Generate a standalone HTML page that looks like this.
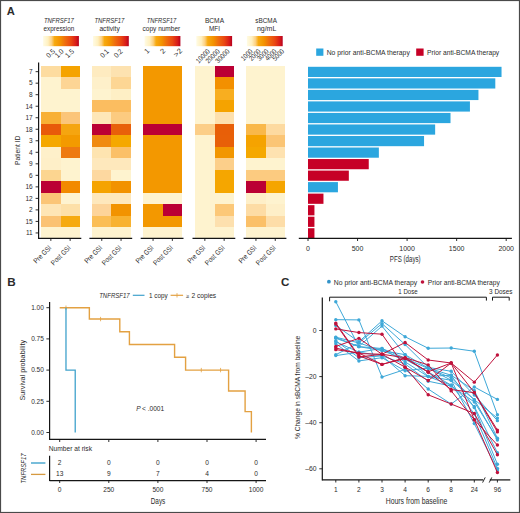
<!DOCTYPE html><html><head><meta charset="utf-8"><style>html,body{margin:0;padding:0;background:#fff;overflow:hidden}svg{display:block}text{font-family:"Liberation Sans",sans-serif;fill:#2b2b2b}</style></head><body>
<svg width="520" height="513" viewBox="0 0 520 513">
<defs><linearGradient id="cb" x1="0" x2="1" y1="0" y2="0"><stop offset="0" stop-color="#fffbe4"/><stop offset="0.14" stop-color="#fff0c0"/><stop offset="0.24" stop-color="#fcd082"/><stop offset="0.32" stop-color="#f7aa10"/><stop offset="0.48" stop-color="#f39200"/><stop offset="0.62" stop-color="#ef6c0e"/><stop offset="0.78" stop-color="#ea4812"/><stop offset="0.92" stop-color="#d81c1a"/><stop offset="1" stop-color="#b5001f"/></linearGradient></defs>
<rect x="0.00" y="0.00" width="520.00" height="513.00" fill="#fff"/>
<rect x="0.5" y="0.5" width="519" height="512" fill="none" stroke="#4a4a4a" stroke-width="1.2"/>
<text x="6.80" y="15.10" font-size="11.2" font-weight="bold" fill="#111">A</text>
<rect x="41.20" y="65.90" width="19.60" height="11.82" fill="#fddca0" shape-rendering="crispEdges"/>
<rect x="60.50" y="65.90" width="19.30" height="11.82" fill="#f5a300" shape-rendering="crispEdges"/>
<rect x="41.20" y="77.42" width="19.60" height="11.82" fill="#fef3cf" shape-rendering="crispEdges"/>
<rect x="60.50" y="77.42" width="19.30" height="11.82" fill="#fdd595" shape-rendering="crispEdges"/>
<rect x="41.20" y="88.94" width="19.60" height="11.82" fill="#fef3cf" shape-rendering="crispEdges"/>
<rect x="60.50" y="88.94" width="19.30" height="11.82" fill="#fef3cf" shape-rendering="crispEdges"/>
<rect x="41.20" y="100.46" width="19.60" height="11.82" fill="#fef3cf" shape-rendering="crispEdges"/>
<rect x="60.50" y="100.46" width="19.30" height="11.82" fill="#fef3cf" shape-rendering="crispEdges"/>
<rect x="41.20" y="111.98" width="19.60" height="11.82" fill="#f8b035" shape-rendering="crispEdges"/>
<rect x="60.50" y="111.98" width="19.30" height="11.82" fill="#fbc57a" shape-rendering="crispEdges"/>
<rect x="41.20" y="123.50" width="19.60" height="11.82" fill="#e85a0a" shape-rendering="crispEdges"/>
<rect x="60.50" y="123.50" width="19.30" height="11.82" fill="#f5a510" shape-rendering="crispEdges"/>
<rect x="41.20" y="135.02" width="19.60" height="11.82" fill="#f5a800" shape-rendering="crispEdges"/>
<rect x="60.50" y="135.02" width="19.30" height="11.82" fill="#f39a00" shape-rendering="crispEdges"/>
<rect x="41.20" y="146.54" width="19.60" height="11.82" fill="#fef0ca" shape-rendering="crispEdges"/>
<rect x="60.50" y="146.54" width="19.30" height="11.82" fill="#ee7a10" shape-rendering="crispEdges"/>
<rect x="41.20" y="158.06" width="19.60" height="11.82" fill="#feefc8" shape-rendering="crispEdges"/>
<rect x="60.50" y="158.06" width="19.30" height="11.82" fill="#fef3cf" shape-rendering="crispEdges"/>
<rect x="41.20" y="169.58" width="19.60" height="11.82" fill="#fcd590" shape-rendering="crispEdges"/>
<rect x="60.50" y="169.58" width="19.30" height="11.82" fill="#fef3cf" shape-rendering="crispEdges"/>
<rect x="41.20" y="181.10" width="19.60" height="11.82" fill="#bb0034" shape-rendering="crispEdges"/>
<rect x="60.50" y="181.10" width="19.30" height="11.82" fill="#f28a00" shape-rendering="crispEdges"/>
<rect x="41.20" y="192.62" width="19.60" height="11.82" fill="#fbc577" shape-rendering="crispEdges"/>
<rect x="60.50" y="192.62" width="19.30" height="11.82" fill="#fef3d0" shape-rendering="crispEdges"/>
<rect x="41.20" y="204.14" width="19.60" height="11.82" fill="#fee5b5" shape-rendering="crispEdges"/>
<rect x="60.50" y="204.14" width="19.30" height="11.82" fill="#fde0a8" shape-rendering="crispEdges"/>
<rect x="41.20" y="215.66" width="19.60" height="11.82" fill="#fbc273" shape-rendering="crispEdges"/>
<rect x="60.50" y="215.66" width="19.30" height="11.82" fill="#f6aa10" shape-rendering="crispEdges"/>
<rect x="41.20" y="227.18" width="19.60" height="11.82" fill="#fef3cf" shape-rendering="crispEdges"/>
<rect x="60.50" y="227.18" width="19.30" height="11.82" fill="#fef3cf" shape-rendering="crispEdges"/>
<line x1="38.50" y1="238.30" x2="81.30" y2="238.30" stroke="#151515" stroke-width="1.25"/>
<line x1="50.85" y1="238.30" x2="50.85" y2="240.90" stroke="#151515" stroke-width="0.9"/>
<text x="51.85" y="248.30" font-size="7.2" text-anchor="end" textLength="22.00" lengthAdjust="spacingAndGlyphs" transform="rotate(-45 51.85 248.30)">Pre GSI</text>
<line x1="70.15" y1="238.30" x2="70.15" y2="240.90" stroke="#151515" stroke-width="0.9"/>
<text x="71.15" y="248.30" font-size="7.2" text-anchor="end" textLength="24.60" lengthAdjust="spacingAndGlyphs" transform="rotate(-45 71.15 248.30)">Post GSI</text>
<rect x="43.10" y="36.00" width="35.80" height="10.20" fill="url(#cb)"/>
<rect x="92.10" y="65.90" width="19.60" height="11.82" fill="#feebc0" shape-rendering="crispEdges"/>
<rect x="111.40" y="65.90" width="19.30" height="11.82" fill="#fde2b0" shape-rendering="crispEdges"/>
<rect x="92.10" y="77.42" width="19.60" height="11.82" fill="#fef0ca" shape-rendering="crispEdges"/>
<rect x="111.40" y="77.42" width="19.30" height="11.82" fill="#fdd694" shape-rendering="crispEdges"/>
<rect x="92.10" y="88.94" width="19.60" height="11.82" fill="#fef3cf" shape-rendering="crispEdges"/>
<rect x="111.40" y="88.94" width="19.30" height="11.82" fill="#feefc5" shape-rendering="crispEdges"/>
<rect x="92.10" y="100.46" width="19.60" height="11.82" fill="#fbbd60" shape-rendering="crispEdges"/>
<rect x="111.40" y="100.46" width="19.30" height="11.82" fill="#fbbd60" shape-rendering="crispEdges"/>
<rect x="92.10" y="111.98" width="19.60" height="11.82" fill="#fee7b8" shape-rendering="crispEdges"/>
<rect x="111.40" y="111.98" width="19.30" height="11.82" fill="#fccb80" shape-rendering="crispEdges"/>
<rect x="92.10" y="123.50" width="19.60" height="11.82" fill="#bb0034" shape-rendering="crispEdges"/>
<rect x="111.40" y="123.50" width="19.30" height="11.82" fill="#e8600a" shape-rendering="crispEdges"/>
<rect x="92.10" y="135.02" width="19.60" height="11.82" fill="#f08a10" shape-rendering="crispEdges"/>
<rect x="111.40" y="135.02" width="19.30" height="11.82" fill="#f5a800" shape-rendering="crispEdges"/>
<rect x="92.10" y="146.54" width="19.60" height="11.82" fill="#fee4b0" shape-rendering="crispEdges"/>
<rect x="111.40" y="146.54" width="19.30" height="11.82" fill="#fbc068" shape-rendering="crispEdges"/>
<rect x="92.10" y="158.06" width="19.60" height="11.82" fill="#fee8bc" shape-rendering="crispEdges"/>
<rect x="111.40" y="158.06" width="19.30" height="11.82" fill="#fee8bc" shape-rendering="crispEdges"/>
<rect x="92.10" y="169.58" width="19.60" height="11.82" fill="#fdd8a0" shape-rendering="crispEdges"/>
<rect x="111.40" y="169.58" width="19.30" height="11.82" fill="#fef3cf" shape-rendering="crispEdges"/>
<rect x="92.10" y="181.10" width="19.60" height="11.82" fill="#f5a300" shape-rendering="crispEdges"/>
<rect x="111.40" y="181.10" width="19.30" height="11.82" fill="#f29200" shape-rendering="crispEdges"/>
<rect x="92.10" y="192.62" width="19.60" height="11.82" fill="#fee8bc" shape-rendering="crispEdges"/>
<rect x="111.40" y="192.62" width="19.30" height="11.82" fill="#fee8bc" shape-rendering="crispEdges"/>
<rect x="92.10" y="204.14" width="19.60" height="11.82" fill="#fdd49a" shape-rendering="crispEdges"/>
<rect x="111.40" y="204.14" width="19.30" height="11.82" fill="#f29300" shape-rendering="crispEdges"/>
<rect x="92.10" y="215.66" width="19.60" height="11.82" fill="#fbbe55" shape-rendering="crispEdges"/>
<rect x="111.40" y="215.66" width="19.30" height="11.82" fill="#f8b230" shape-rendering="crispEdges"/>
<rect x="92.10" y="227.18" width="19.60" height="11.82" fill="#fef3cf" shape-rendering="crispEdges"/>
<rect x="111.40" y="227.18" width="19.30" height="11.82" fill="#fef3cf" shape-rendering="crispEdges"/>
<line x1="89.40" y1="238.30" x2="132.20" y2="238.30" stroke="#151515" stroke-width="1.25"/>
<line x1="101.75" y1="238.30" x2="101.75" y2="240.90" stroke="#151515" stroke-width="0.9"/>
<text x="102.75" y="248.30" font-size="7.2" text-anchor="end" textLength="22.00" lengthAdjust="spacingAndGlyphs" transform="rotate(-45 102.75 248.30)">Pre GSI</text>
<line x1="121.05" y1="238.30" x2="121.05" y2="240.90" stroke="#151515" stroke-width="0.9"/>
<text x="122.05" y="248.30" font-size="7.2" text-anchor="end" textLength="24.60" lengthAdjust="spacingAndGlyphs" transform="rotate(-45 122.05 248.30)">Post GSI</text>
<rect x="93.00" y="36.00" width="35.80" height="10.20" fill="url(#cb)"/>
<rect x="143.40" y="65.90" width="19.60" height="11.82" fill="#f39800" shape-rendering="crispEdges"/>
<rect x="162.70" y="65.90" width="19.30" height="11.82" fill="#f39800" shape-rendering="crispEdges"/>
<rect x="143.40" y="77.42" width="19.60" height="11.82" fill="#f39800" shape-rendering="crispEdges"/>
<rect x="162.70" y="77.42" width="19.30" height="11.82" fill="#f39800" shape-rendering="crispEdges"/>
<rect x="143.40" y="88.94" width="19.60" height="11.82" fill="#f39800" shape-rendering="crispEdges"/>
<rect x="162.70" y="88.94" width="19.30" height="11.82" fill="#f39800" shape-rendering="crispEdges"/>
<rect x="143.40" y="100.46" width="19.60" height="11.82" fill="#f39800" shape-rendering="crispEdges"/>
<rect x="162.70" y="100.46" width="19.30" height="11.82" fill="#f39800" shape-rendering="crispEdges"/>
<rect x="143.40" y="111.98" width="19.60" height="11.82" fill="#f39800" shape-rendering="crispEdges"/>
<rect x="162.70" y="111.98" width="19.30" height="11.82" fill="#f39800" shape-rendering="crispEdges"/>
<rect x="143.40" y="123.50" width="19.60" height="11.82" fill="#bb0034" shape-rendering="crispEdges"/>
<rect x="162.70" y="123.50" width="19.30" height="11.82" fill="#bb0034" shape-rendering="crispEdges"/>
<rect x="143.40" y="135.02" width="19.60" height="11.82" fill="#f39800" shape-rendering="crispEdges"/>
<rect x="162.70" y="135.02" width="19.30" height="11.82" fill="#f39800" shape-rendering="crispEdges"/>
<rect x="143.40" y="146.54" width="19.60" height="11.82" fill="#f39800" shape-rendering="crispEdges"/>
<rect x="162.70" y="146.54" width="19.30" height="11.82" fill="#f39800" shape-rendering="crispEdges"/>
<rect x="143.40" y="158.06" width="19.60" height="11.82" fill="#f39800" shape-rendering="crispEdges"/>
<rect x="162.70" y="158.06" width="19.30" height="11.82" fill="#f39800" shape-rendering="crispEdges"/>
<rect x="143.40" y="169.58" width="19.60" height="11.82" fill="#f39800" shape-rendering="crispEdges"/>
<rect x="162.70" y="169.58" width="19.30" height="11.82" fill="#f39800" shape-rendering="crispEdges"/>
<rect x="143.40" y="181.10" width="19.60" height="11.82" fill="#f39800" shape-rendering="crispEdges"/>
<rect x="162.70" y="181.10" width="19.30" height="11.82" fill="#f39800" shape-rendering="crispEdges"/>
<rect x="143.40" y="192.62" width="19.60" height="11.82" fill="#fef3cf" shape-rendering="crispEdges"/>
<rect x="162.70" y="192.62" width="19.30" height="11.82" fill="#fef3cf" shape-rendering="crispEdges"/>
<rect x="143.40" y="204.14" width="19.60" height="11.82" fill="#f39800" shape-rendering="crispEdges"/>
<rect x="162.70" y="204.14" width="19.30" height="11.82" fill="#bb0034" shape-rendering="crispEdges"/>
<rect x="143.40" y="215.66" width="19.60" height="11.82" fill="#f39800" shape-rendering="crispEdges"/>
<rect x="162.70" y="215.66" width="19.30" height="11.82" fill="#f39800" shape-rendering="crispEdges"/>
<rect x="143.40" y="227.18" width="19.60" height="11.82" fill="#fef3cf" shape-rendering="crispEdges"/>
<rect x="162.70" y="227.18" width="19.30" height="11.82" fill="#fef3cf" shape-rendering="crispEdges"/>
<line x1="140.70" y1="238.30" x2="183.50" y2="238.30" stroke="#151515" stroke-width="1.25"/>
<line x1="153.05" y1="238.30" x2="153.05" y2="240.90" stroke="#151515" stroke-width="0.9"/>
<text x="154.05" y="248.30" font-size="7.2" text-anchor="end" textLength="22.00" lengthAdjust="spacingAndGlyphs" transform="rotate(-45 154.05 248.30)">Pre GSI</text>
<line x1="172.35" y1="238.30" x2="172.35" y2="240.90" stroke="#151515" stroke-width="0.9"/>
<text x="173.35" y="248.30" font-size="7.2" text-anchor="end" textLength="24.60" lengthAdjust="spacingAndGlyphs" transform="rotate(-45 173.35 248.30)">Post GSI</text>
<rect x="144.60" y="36.00" width="35.80" height="10.20" fill="url(#cb)"/>
<rect x="195.20" y="65.90" width="19.60" height="11.82" fill="#fef3cf" shape-rendering="crispEdges"/>
<rect x="214.50" y="65.90" width="19.30" height="11.82" fill="#bb0034" shape-rendering="crispEdges"/>
<rect x="195.20" y="77.42" width="19.60" height="11.82" fill="#fef3cf" shape-rendering="crispEdges"/>
<rect x="214.50" y="77.42" width="19.30" height="11.82" fill="#f39000" shape-rendering="crispEdges"/>
<rect x="195.20" y="88.94" width="19.60" height="11.82" fill="#fef3cf" shape-rendering="crispEdges"/>
<rect x="214.50" y="88.94" width="19.30" height="11.82" fill="#f8ae20" shape-rendering="crispEdges"/>
<rect x="195.20" y="100.46" width="19.60" height="11.82" fill="#fef3cf" shape-rendering="crispEdges"/>
<rect x="214.50" y="100.46" width="19.30" height="11.82" fill="#f5a300" shape-rendering="crispEdges"/>
<rect x="195.20" y="111.98" width="19.60" height="11.82" fill="#fef3cf" shape-rendering="crispEdges"/>
<rect x="214.50" y="111.98" width="19.30" height="11.82" fill="#fde0ae" shape-rendering="crispEdges"/>
<rect x="195.20" y="123.50" width="19.60" height="11.82" fill="#fcce88" shape-rendering="crispEdges"/>
<rect x="214.50" y="123.50" width="19.30" height="11.82" fill="#e85f08" shape-rendering="crispEdges"/>
<rect x="195.20" y="135.02" width="19.60" height="11.82" fill="#fef3cf" shape-rendering="crispEdges"/>
<rect x="214.50" y="135.02" width="19.30" height="11.82" fill="#e86008" shape-rendering="crispEdges"/>
<rect x="195.20" y="146.54" width="19.60" height="11.82" fill="#fef3cf" shape-rendering="crispEdges"/>
<rect x="214.50" y="146.54" width="19.30" height="11.82" fill="#f29600" shape-rendering="crispEdges"/>
<rect x="195.20" y="158.06" width="19.60" height="11.82" fill="#fef3cf" shape-rendering="crispEdges"/>
<rect x="214.50" y="158.06" width="19.30" height="11.82" fill="#fccf8a" shape-rendering="crispEdges"/>
<rect x="195.20" y="169.58" width="19.60" height="11.82" fill="#fef3cf" shape-rendering="crispEdges"/>
<rect x="214.50" y="169.58" width="19.30" height="11.82" fill="#f5a600" shape-rendering="crispEdges"/>
<rect x="195.20" y="181.10" width="19.60" height="11.82" fill="#fef3cf" shape-rendering="crispEdges"/>
<rect x="214.50" y="181.10" width="19.30" height="11.82" fill="#f5a600" shape-rendering="crispEdges"/>
<rect x="195.20" y="192.62" width="19.60" height="11.82" fill="#fef3cf" shape-rendering="crispEdges"/>
<rect x="214.50" y="192.62" width="19.30" height="11.82" fill="#fef3cf" shape-rendering="crispEdges"/>
<rect x="195.20" y="204.14" width="19.60" height="11.82" fill="#fef3cf" shape-rendering="crispEdges"/>
<rect x="214.50" y="204.14" width="19.30" height="11.82" fill="#fcc878" shape-rendering="crispEdges"/>
<rect x="195.20" y="215.66" width="19.60" height="11.82" fill="#fef3cf" shape-rendering="crispEdges"/>
<rect x="214.50" y="215.66" width="19.30" height="11.82" fill="#fde0ae" shape-rendering="crispEdges"/>
<rect x="195.20" y="227.18" width="19.60" height="11.82" fill="#fef3cf" shape-rendering="crispEdges"/>
<rect x="214.50" y="227.18" width="19.30" height="11.82" fill="#fef3cf" shape-rendering="crispEdges"/>
<line x1="192.50" y1="238.30" x2="235.30" y2="238.30" stroke="#151515" stroke-width="1.25"/>
<line x1="204.85" y1="238.30" x2="204.85" y2="240.90" stroke="#151515" stroke-width="0.9"/>
<text x="205.85" y="248.30" font-size="7.2" text-anchor="end" textLength="22.00" lengthAdjust="spacingAndGlyphs" transform="rotate(-45 205.85 248.30)">Pre GSI</text>
<line x1="224.15" y1="238.30" x2="224.15" y2="240.90" stroke="#151515" stroke-width="0.9"/>
<text x="225.15" y="248.30" font-size="7.2" text-anchor="end" textLength="24.60" lengthAdjust="spacingAndGlyphs" transform="rotate(-45 225.15 248.30)">Post GSI</text>
<rect x="196.30" y="36.00" width="35.80" height="10.20" fill="url(#cb)"/>
<rect x="246.30" y="65.90" width="19.60" height="11.82" fill="#fef3cf" shape-rendering="crispEdges"/>
<rect x="265.60" y="65.90" width="19.30" height="11.82" fill="#fef3cf" shape-rendering="crispEdges"/>
<rect x="246.30" y="77.42" width="19.60" height="11.82" fill="#fef3cf" shape-rendering="crispEdges"/>
<rect x="265.60" y="77.42" width="19.30" height="11.82" fill="#fef3cf" shape-rendering="crispEdges"/>
<rect x="246.30" y="88.94" width="19.60" height="11.82" fill="#fef3cf" shape-rendering="crispEdges"/>
<rect x="265.60" y="88.94" width="19.30" height="11.82" fill="#fef3cf" shape-rendering="crispEdges"/>
<rect x="246.30" y="100.46" width="19.60" height="11.82" fill="#fef3cf" shape-rendering="crispEdges"/>
<rect x="265.60" y="100.46" width="19.30" height="11.82" fill="#fef3cf" shape-rendering="crispEdges"/>
<rect x="246.30" y="111.98" width="19.60" height="11.82" fill="#fef3cf" shape-rendering="crispEdges"/>
<rect x="265.60" y="111.98" width="19.30" height="11.82" fill="#fef3cf" shape-rendering="crispEdges"/>
<rect x="246.30" y="123.50" width="19.60" height="11.82" fill="#f9b84a" shape-rendering="crispEdges"/>
<rect x="265.60" y="123.50" width="19.30" height="11.82" fill="#fddaa0" shape-rendering="crispEdges"/>
<rect x="246.30" y="135.02" width="19.60" height="11.82" fill="#f5a300" shape-rendering="crispEdges"/>
<rect x="265.60" y="135.02" width="19.30" height="11.82" fill="#fbc575" shape-rendering="crispEdges"/>
<rect x="246.30" y="146.54" width="19.60" height="11.82" fill="#f5a800" shape-rendering="crispEdges"/>
<rect x="265.60" y="146.54" width="19.30" height="11.82" fill="#fee2b0" shape-rendering="crispEdges"/>
<rect x="246.30" y="158.06" width="19.60" height="11.82" fill="#fef3cf" shape-rendering="crispEdges"/>
<rect x="265.60" y="158.06" width="19.30" height="11.82" fill="#fef3cf" shape-rendering="crispEdges"/>
<rect x="246.30" y="169.58" width="19.60" height="11.82" fill="#fccb80" shape-rendering="crispEdges"/>
<rect x="265.60" y="169.58" width="19.30" height="11.82" fill="#fccb80" shape-rendering="crispEdges"/>
<rect x="246.30" y="181.10" width="19.60" height="11.82" fill="#bb0034" shape-rendering="crispEdges"/>
<rect x="265.60" y="181.10" width="19.30" height="11.82" fill="#f5a500" shape-rendering="crispEdges"/>
<rect x="246.30" y="192.62" width="19.60" height="11.82" fill="#feefc8" shape-rendering="crispEdges"/>
<rect x="265.60" y="192.62" width="19.30" height="11.82" fill="#fef3cf" shape-rendering="crispEdges"/>
<rect x="246.30" y="204.14" width="19.60" height="11.82" fill="#fddca5" shape-rendering="crispEdges"/>
<rect x="265.60" y="204.14" width="19.30" height="11.82" fill="#feefc8" shape-rendering="crispEdges"/>
<rect x="246.30" y="215.66" width="19.60" height="11.82" fill="#fbc068" shape-rendering="crispEdges"/>
<rect x="265.60" y="215.66" width="19.30" height="11.82" fill="#fddda8" shape-rendering="crispEdges"/>
<rect x="246.30" y="227.18" width="19.60" height="11.82" fill="#fef3cf" shape-rendering="crispEdges"/>
<rect x="265.60" y="227.18" width="19.30" height="11.82" fill="#fef3cf" shape-rendering="crispEdges"/>
<line x1="243.60" y1="238.30" x2="286.40" y2="238.30" stroke="#151515" stroke-width="1.25"/>
<line x1="255.95" y1="238.30" x2="255.95" y2="240.90" stroke="#151515" stroke-width="0.9"/>
<text x="256.95" y="248.30" font-size="7.2" text-anchor="end" textLength="22.00" lengthAdjust="spacingAndGlyphs" transform="rotate(-45 256.95 248.30)">Pre GSI</text>
<line x1="275.25" y1="238.30" x2="275.25" y2="240.90" stroke="#151515" stroke-width="0.9"/>
<text x="276.25" y="248.30" font-size="7.2" text-anchor="end" textLength="24.60" lengthAdjust="spacingAndGlyphs" transform="rotate(-45 276.25 248.30)">Post GSI</text>
<rect x="246.90" y="36.00" width="35.80" height="10.20" fill="url(#cb)"/>
<line x1="38.60" y1="62.50" x2="38.60" y2="238.90" stroke="#151515" stroke-width="1.2"/>
<line x1="35.60" y1="71.66" x2="38.60" y2="71.66" stroke="#151515" stroke-width="0.9"/>
<text x="32.70" y="73.96" font-size="6.5" text-anchor="end">7</text>
<line x1="35.60" y1="83.18" x2="38.60" y2="83.18" stroke="#151515" stroke-width="0.9"/>
<text x="32.70" y="85.48" font-size="6.5" text-anchor="end">5</text>
<line x1="35.60" y1="94.70" x2="38.60" y2="94.70" stroke="#151515" stroke-width="0.9"/>
<text x="32.70" y="97.00" font-size="6.5" text-anchor="end">8</text>
<line x1="35.60" y1="106.22" x2="38.60" y2="106.22" stroke="#151515" stroke-width="0.9"/>
<text x="32.70" y="108.52" font-size="6.5" text-anchor="end">14</text>
<line x1="35.60" y1="117.74" x2="38.60" y2="117.74" stroke="#151515" stroke-width="0.9"/>
<text x="32.70" y="120.04" font-size="6.5" text-anchor="end">17</text>
<line x1="35.60" y1="129.26" x2="38.60" y2="129.26" stroke="#151515" stroke-width="0.9"/>
<text x="32.70" y="131.56" font-size="6.5" text-anchor="end">18</text>
<line x1="35.60" y1="140.78" x2="38.60" y2="140.78" stroke="#151515" stroke-width="0.9"/>
<text x="32.70" y="143.08" font-size="6.5" text-anchor="end">3</text>
<line x1="35.60" y1="152.30" x2="38.60" y2="152.30" stroke="#151515" stroke-width="0.9"/>
<text x="32.70" y="154.60" font-size="6.5" text-anchor="end">4</text>
<line x1="35.60" y1="163.82" x2="38.60" y2="163.82" stroke="#151515" stroke-width="0.9"/>
<text x="32.70" y="166.12" font-size="6.5" text-anchor="end">9</text>
<line x1="35.60" y1="175.34" x2="38.60" y2="175.34" stroke="#151515" stroke-width="0.9"/>
<text x="32.70" y="177.64" font-size="6.5" text-anchor="end">6</text>
<line x1="35.60" y1="186.86" x2="38.60" y2="186.86" stroke="#151515" stroke-width="0.9"/>
<text x="32.70" y="189.16" font-size="6.5" text-anchor="end">16</text>
<line x1="35.60" y1="198.38" x2="38.60" y2="198.38" stroke="#151515" stroke-width="0.9"/>
<text x="32.70" y="200.68" font-size="6.5" text-anchor="end">12</text>
<line x1="35.60" y1="209.90" x2="38.60" y2="209.90" stroke="#151515" stroke-width="0.9"/>
<text x="32.70" y="212.20" font-size="6.5" text-anchor="end">2</text>
<line x1="35.60" y1="221.42" x2="38.60" y2="221.42" stroke="#151515" stroke-width="0.9"/>
<text x="32.70" y="223.72" font-size="6.5" text-anchor="end">15</text>
<line x1="35.60" y1="232.94" x2="38.60" y2="232.94" stroke="#151515" stroke-width="0.9"/>
<text x="32.70" y="235.24" font-size="6.5" text-anchor="end">11</text>
<text x="19.80" y="150.30" font-size="7.9" text-anchor="middle" textLength="29.40" lengthAdjust="spacingAndGlyphs" transform="rotate(-90 19.80 150.30)">Patient ID</text>
<text x="58.90" y="22.90" font-size="6.8" text-anchor="middle" textLength="30.00" lengthAdjust="spacingAndGlyphs" font-style="italic">TNFRSF17</text>
<text x="58.90" y="30.90" font-size="6.8" text-anchor="middle" textLength="30.70" lengthAdjust="spacingAndGlyphs">expression</text>
<text x="109.40" y="22.90" font-size="6.8" text-anchor="middle" textLength="30.00" lengthAdjust="spacingAndGlyphs" font-style="italic">TNFRSF17</text>
<text x="109.60" y="30.90" font-size="6.8" text-anchor="middle" textLength="20.40" lengthAdjust="spacingAndGlyphs">activity</text>
<text x="161.50" y="22.90" font-size="6.8" text-anchor="middle" textLength="29.40" lengthAdjust="spacingAndGlyphs" font-style="italic">TNFRSF17</text>
<text x="161.40" y="30.90" font-size="6.8" text-anchor="middle" textLength="37.60" lengthAdjust="spacingAndGlyphs">copy number</text>
<text x="214.50" y="22.90" font-size="6.8" text-anchor="middle" textLength="19.10" lengthAdjust="spacingAndGlyphs">BCMA</text>
<text x="214.50" y="30.90" font-size="6.8" text-anchor="middle" textLength="10.90" lengthAdjust="spacingAndGlyphs">MFI</text>
<text x="266.10" y="22.90" font-size="6.8" text-anchor="middle" textLength="21.60" lengthAdjust="spacingAndGlyphs">sBCMA</text>
<text x="266.60" y="30.90" font-size="6.8" text-anchor="middle" textLength="19.40" lengthAdjust="spacingAndGlyphs">ng/mL</text>
<text x="55.50" y="51.80" font-size="7.2" text-anchor="end" textLength="9.18" lengthAdjust="spacingAndGlyphs" transform="rotate(-45 55.50 51.80)">0.5</text>
<text x="64.20" y="51.80" font-size="7.2" text-anchor="end" textLength="9.18" lengthAdjust="spacingAndGlyphs" transform="rotate(-45 64.20 51.80)">1.0</text>
<text x="74.50" y="51.80" font-size="7.2" text-anchor="end" textLength="9.18" lengthAdjust="spacingAndGlyphs" transform="rotate(-45 74.50 51.80)">1.5</text>
<text x="109.40" y="51.80" font-size="7.2" text-anchor="end" textLength="9.18" lengthAdjust="spacingAndGlyphs" transform="rotate(-45 109.40 51.80)">0.1</text>
<text x="123.20" y="51.80" font-size="7.2" text-anchor="end" textLength="9.18" lengthAdjust="spacingAndGlyphs" transform="rotate(-45 123.20 51.80)">0.2</text>
<text x="149.90" y="51.30" font-size="7.2" text-anchor="end" textLength="3.78" lengthAdjust="spacingAndGlyphs" transform="rotate(-45 149.90 51.30)">1</text>
<text x="165.90" y="51.30" font-size="7.2" text-anchor="end" textLength="4.10" lengthAdjust="spacingAndGlyphs" transform="rotate(-45 165.90 51.30)">2</text>
<text x="182.70" y="51.30" font-size="7.2" text-anchor="end" textLength="8.64" lengthAdjust="spacingAndGlyphs" transform="rotate(-45 182.70 51.30)">&gt;2</text>
<text x="210.50" y="51.80" font-size="7.2" text-anchor="end" textLength="16.74" lengthAdjust="spacingAndGlyphs" transform="rotate(-45 210.50 51.80)">10000</text>
<text x="220.30" y="51.80" font-size="7.2" text-anchor="end" textLength="16.74" lengthAdjust="spacingAndGlyphs" transform="rotate(-45 220.30 51.80)">20000</text>
<text x="230.10" y="51.80" font-size="7.2" text-anchor="end" textLength="16.74" lengthAdjust="spacingAndGlyphs" transform="rotate(-45 230.10 51.80)">30000</text>
<text x="253.20" y="51.80" font-size="7.2" text-anchor="end" textLength="13.39" lengthAdjust="spacingAndGlyphs" transform="rotate(-45 253.20 51.80)">1000</text>
<text x="261.20" y="51.80" font-size="7.2" text-anchor="end" textLength="13.39" lengthAdjust="spacingAndGlyphs" transform="rotate(-45 261.20 51.80)">2000</text>
<text x="269.20" y="51.80" font-size="7.2" text-anchor="end" textLength="13.39" lengthAdjust="spacingAndGlyphs" transform="rotate(-45 269.20 51.80)">3000</text>
<text x="277.20" y="51.80" font-size="7.2" text-anchor="end" textLength="13.39" lengthAdjust="spacingAndGlyphs" transform="rotate(-45 277.20 51.80)">4000</text>
<text x="284.70" y="51.80" font-size="7.2" text-anchor="end" textLength="13.39" lengthAdjust="spacingAndGlyphs" transform="rotate(-45 284.70 51.80)">5000</text>
<rect x="316.20" y="48.50" width="7.20" height="7.30" fill="#2ba6df"/>
<text x="326.70" y="54.80" font-size="7.6" textLength="83.10" lengthAdjust="spacingAndGlyphs">No prior anti-BCMA therapy</text>
<rect x="416.20" y="48.50" width="7.40" height="7.30" fill="#c60026"/>
<text x="427.00" y="54.80" font-size="7.6" textLength="72.20" lengthAdjust="spacingAndGlyphs">Prior anti-BCMA therapy</text>
<rect x="308.00" y="66.80" width="193.54" height="10.20" fill="#2ba6df"/>
<rect x="308.00" y="78.33" width="187.30" height="10.20" fill="#2ba6df"/>
<rect x="308.00" y="89.86" width="170.45" height="10.20" fill="#2ba6df"/>
<rect x="308.00" y="101.39" width="161.93" height="10.20" fill="#2ba6df"/>
<rect x="308.00" y="112.92" width="142.51" height="10.20" fill="#2ba6df"/>
<rect x="308.00" y="124.45" width="127.15" height="10.20" fill="#2ba6df"/>
<rect x="308.00" y="135.98" width="116.05" height="10.20" fill="#2ba6df"/>
<rect x="308.00" y="147.51" width="70.86" height="10.20" fill="#2ba6df"/>
<rect x="308.00" y="159.04" width="60.75" height="10.20" fill="#c60026"/>
<rect x="308.00" y="170.57" width="40.83" height="10.20" fill="#c60026"/>
<rect x="308.00" y="182.10" width="29.93" height="10.20" fill="#2ba6df"/>
<rect x="308.00" y="193.63" width="15.46" height="10.20" fill="#c60026"/>
<rect x="308.00" y="205.16" width="6.44" height="10.20" fill="#c60026"/>
<rect x="308.00" y="216.69" width="6.44" height="10.20" fill="#c60026"/>
<rect x="308.00" y="228.22" width="6.44" height="10.20" fill="#c60026"/>
<line x1="298.80" y1="238.30" x2="511.90" y2="238.30" stroke="#151515" stroke-width="1.25"/>
<line x1="308.00" y1="238.30" x2="308.00" y2="241.00" stroke="#151515" stroke-width="0.9"/>
<text x="308.00" y="250.60" font-size="7.0" text-anchor="middle">0</text>
<line x1="357.55" y1="238.30" x2="357.55" y2="241.00" stroke="#151515" stroke-width="0.9"/>
<text x="357.55" y="250.60" font-size="7.0" text-anchor="middle">500</text>
<line x1="407.10" y1="238.30" x2="407.10" y2="241.00" stroke="#151515" stroke-width="0.9"/>
<text x="407.10" y="250.60" font-size="7.0" text-anchor="middle">1000</text>
<line x1="456.65" y1="238.30" x2="456.65" y2="241.00" stroke="#151515" stroke-width="0.9"/>
<text x="456.65" y="250.60" font-size="7.0" text-anchor="middle">1500</text>
<line x1="506.20" y1="238.30" x2="506.20" y2="241.00" stroke="#151515" stroke-width="0.9"/>
<text x="506.20" y="250.60" font-size="7.0" text-anchor="middle">2000</text>
<text x="405.20" y="261.90" font-size="8.5" text-anchor="middle" textLength="30.80" lengthAdjust="spacingAndGlyphs">PFS (days)</text>
<text x="7.30" y="285.60" font-size="11.7" font-weight="bold" fill="#111">B</text>
<text x="99.20" y="297.80" font-size="6.8" textLength="30.50" lengthAdjust="spacingAndGlyphs" font-style="italic">TNFRSF17</text>
<line x1="132.80" y1="295.30" x2="144.50" y2="295.30" stroke="#40a2cc" stroke-width="1.2"/>
<text x="149.00" y="297.80" font-size="6.8" textLength="18.60" lengthAdjust="spacingAndGlyphs">1 copy</text>
<line x1="170.60" y1="295.30" x2="183.10" y2="295.30" stroke="#e3a142" stroke-width="1.2"/>
<line x1="177.00" y1="293.10" x2="177.00" y2="297.50" stroke="#e3a142" stroke-width="0.8"/>
<text x="186.00" y="297.60" font-size="5.6" fill="#a8a8a8">≥</text>
<text x="191.50" y="297.80" font-size="6.8" textLength="24.70" lengthAdjust="spacingAndGlyphs">2 copies</text>
<line x1="49.60" y1="302.00" x2="49.60" y2="439.90" stroke="#151515" stroke-width="1.2"/>
<line x1="46.40" y1="307.70" x2="49.60" y2="307.70" stroke="#151515" stroke-width="0.9"/>
<text x="43.90" y="310.00" font-size="6.4" text-anchor="end" textLength="12.70" lengthAdjust="spacingAndGlyphs">1.00</text>
<line x1="46.40" y1="338.90" x2="49.60" y2="338.90" stroke="#151515" stroke-width="0.9"/>
<text x="43.90" y="341.20" font-size="6.4" text-anchor="end" textLength="12.70" lengthAdjust="spacingAndGlyphs">0.75</text>
<line x1="46.40" y1="370.10" x2="49.60" y2="370.10" stroke="#151515" stroke-width="0.9"/>
<text x="43.90" y="372.40" font-size="6.4" text-anchor="end" textLength="12.70" lengthAdjust="spacingAndGlyphs">0.50</text>
<line x1="46.40" y1="401.30" x2="49.60" y2="401.30" stroke="#151515" stroke-width="0.9"/>
<text x="43.90" y="403.60" font-size="6.4" text-anchor="end" textLength="12.70" lengthAdjust="spacingAndGlyphs">0.25</text>
<line x1="46.40" y1="432.50" x2="49.60" y2="432.50" stroke="#151515" stroke-width="0.9"/>
<text x="43.90" y="434.80" font-size="6.4" text-anchor="end" textLength="12.70" lengthAdjust="spacingAndGlyphs">0.00</text>
<line x1="49.60" y1="439.40" x2="266.00" y2="439.40" stroke="#151515" stroke-width="1.25"/>
<line x1="59.70" y1="439.40" x2="59.70" y2="442.00" stroke="#151515" stroke-width="0.9"/>
<line x1="108.80" y1="439.40" x2="108.80" y2="442.00" stroke="#151515" stroke-width="0.9"/>
<line x1="157.90" y1="439.40" x2="157.90" y2="442.00" stroke="#151515" stroke-width="0.9"/>
<line x1="207.00" y1="439.40" x2="207.00" y2="442.00" stroke="#151515" stroke-width="0.9"/>
<line x1="256.10" y1="439.40" x2="256.10" y2="442.00" stroke="#151515" stroke-width="0.9"/>
<text x="25.20" y="370.20" font-size="8.0" text-anchor="middle" textLength="60.50" lengthAdjust="spacingAndGlyphs" transform="rotate(-90 25.20 370.20)">Survival probability</text>
<polyline fill="none" stroke="#e3a142" stroke-width="1.4" points="59.70,307.70 89.36,307.70 89.36,319.06 119.80,319.06 119.80,331.79 129.42,331.79 129.42,344.52 174.59,344.52 174.59,357.25 185.59,357.25 185.59,370.10 228.60,370.10 228.60,390.94 245.10,390.94 245.10,411.66 251.39,411.66 251.39,432.50"/>
<line x1="100.55" y1="316.86" x2="100.55" y2="321.26" stroke="#e3a142" stroke-width="0.8"/>
<line x1="201.30" y1="367.90" x2="201.30" y2="372.30" stroke="#e3a142" stroke-width="0.8"/>
<line x1="220.55" y1="367.90" x2="220.55" y2="372.30" stroke="#e3a142" stroke-width="0.8"/>
<line x1="65.98" y1="305.50" x2="65.98" y2="309.90" stroke="#e3a142" stroke-width="0.8"/>
<polyline fill="none" stroke="#40a2cc" stroke-width="1.3" points="65.98,307.70 65.98,370.10 75.22,370.10 75.22,432.50"/>
<text x="136.20" y="410.60" font-size="6.6" font-style="italic">P</text>
<text x="142.00" y="410.60" font-size="6.6" textLength="22.20" lengthAdjust="spacingAndGlyphs">&lt; .0001</text>
<text x="48.80" y="451.30" font-size="6.6" textLength="43.20" lengthAdjust="spacingAndGlyphs">Number at risk</text>
<line x1="49.60" y1="455.80" x2="49.60" y2="481.10" stroke="#151515" stroke-width="1.2"/>
<line x1="49.60" y1="480.50" x2="266.00" y2="480.50" stroke="#151515" stroke-width="1.25"/>
<line x1="59.70" y1="480.50" x2="59.70" y2="483.00" stroke="#151515" stroke-width="0.9"/>
<text x="59.70" y="491.80" font-size="6.6" text-anchor="middle">0</text>
<line x1="108.80" y1="480.50" x2="108.80" y2="483.00" stroke="#151515" stroke-width="0.9"/>
<text x="108.80" y="491.80" font-size="6.6" text-anchor="middle">250</text>
<line x1="157.90" y1="480.50" x2="157.90" y2="483.00" stroke="#151515" stroke-width="0.9"/>
<text x="157.90" y="491.80" font-size="6.6" text-anchor="middle">500</text>
<line x1="207.00" y1="480.50" x2="207.00" y2="483.00" stroke="#151515" stroke-width="0.9"/>
<text x="207.00" y="491.80" font-size="6.6" text-anchor="middle">750</text>
<line x1="256.10" y1="480.50" x2="256.10" y2="483.00" stroke="#151515" stroke-width="0.9"/>
<text x="256.10" y="491.80" font-size="6.6" text-anchor="middle">1000</text>
<line x1="31.00" y1="463.00" x2="45.40" y2="463.00" stroke="#40a2cc" stroke-width="1.4"/>
<line x1="31.00" y1="474.40" x2="45.40" y2="474.40" stroke="#d69a40" stroke-width="1.3"/>
<text x="59.70" y="465.00" font-size="6.6" text-anchor="middle">2</text>
<text x="59.70" y="476.20" font-size="6.6" text-anchor="middle">13</text>
<text x="108.80" y="465.00" font-size="6.6" text-anchor="middle">0</text>
<text x="108.80" y="476.20" font-size="6.6" text-anchor="middle">9</text>
<text x="157.90" y="465.00" font-size="6.6" text-anchor="middle">0</text>
<text x="157.90" y="476.20" font-size="6.6" text-anchor="middle">7</text>
<text x="207.00" y="465.00" font-size="6.6" text-anchor="middle">0</text>
<text x="207.00" y="476.20" font-size="6.6" text-anchor="middle">4</text>
<text x="256.10" y="465.00" font-size="6.6" text-anchor="middle">0</text>
<text x="256.10" y="476.20" font-size="6.6" text-anchor="middle">0</text>
<text x="25.60" y="468.50" font-size="6.4" text-anchor="middle" textLength="30.00" lengthAdjust="spacingAndGlyphs" font-style="italic" transform="rotate(-90 25.60 468.50)">TNFRSF17</text>
<text x="158.00" y="503.80" font-size="8.6" text-anchor="middle" textLength="14.60" lengthAdjust="spacingAndGlyphs">Days</text>
<text x="280.90" y="285.90" font-size="11.6" font-weight="bold" fill="#111">C</text>
<circle cx="328.9" cy="281.7" r="1.9" fill="#3393c9"/>
<text x="333.80" y="284.50" font-size="7.0" textLength="83.40" lengthAdjust="spacingAndGlyphs">No prior anti-BCMA therapy</text>
<circle cx="422.5" cy="282.0" r="1.8" fill="#bf123c"/>
<text x="427.80" y="284.50" font-size="7.0" textLength="72.00" lengthAdjust="spacingAndGlyphs">Prior anti-BCMA therapy</text>
<polyline fill="none" stroke="#151515" stroke-width="1" points="329.6,301.3 329.6,297.2 486.4,297.2 486.4,300.6"/>
<polyline fill="none" stroke="#151515" stroke-width="1" points="492.5,300.6 492.5,297.2 509.2,297.2 509.2,300.6"/>
<text x="408.00" y="294.20" font-size="7.0" text-anchor="middle" textLength="19.40" lengthAdjust="spacingAndGlyphs">1 Dose</text>
<text x="500.80" y="294.20" font-size="7.0" text-anchor="middle" textLength="23.50" lengthAdjust="spacingAndGlyphs">3 Doses</text>
<line x1="322.30" y1="297.40" x2="322.30" y2="480.50" stroke="#151515" stroke-width="1.2"/>
<line x1="322.30" y1="479.90" x2="483.20" y2="479.90" stroke="#151515" stroke-width="1.25"/>
<line x1="489.80" y1="479.90" x2="510.30" y2="479.90" stroke="#151515" stroke-width="1.25"/>
<line x1="482.60" y1="482.60" x2="485.20" y2="477.40" stroke="#151515" stroke-width="0.9"/>
<line x1="489.20" y1="482.60" x2="491.80" y2="477.40" stroke="#151515" stroke-width="0.9"/>
<line x1="319.30" y1="330.50" x2="322.30" y2="330.50" stroke="#151515" stroke-width="0.9"/>
<text x="316.60" y="332.90" font-size="6.8" text-anchor="end">0</text>
<line x1="319.30" y1="376.60" x2="322.30" y2="376.60" stroke="#151515" stroke-width="0.9"/>
<text x="316.60" y="379.00" font-size="6.8" text-anchor="end">–20</text>
<line x1="319.30" y1="422.70" x2="322.30" y2="422.70" stroke="#151515" stroke-width="0.9"/>
<text x="316.60" y="425.10" font-size="6.8" text-anchor="end">–40</text>
<line x1="319.30" y1="468.80" x2="322.30" y2="468.80" stroke="#151515" stroke-width="0.9"/>
<text x="316.60" y="471.20" font-size="6.8" text-anchor="end">–60</text>
<line x1="335.80" y1="480.00" x2="335.80" y2="482.50" stroke="#151515" stroke-width="0.9"/>
<text x="335.80" y="492.00" font-size="6.6" text-anchor="middle">1</text>
<line x1="358.90" y1="480.00" x2="358.90" y2="482.50" stroke="#151515" stroke-width="0.9"/>
<text x="358.90" y="492.00" font-size="6.6" text-anchor="middle">2</text>
<line x1="382.00" y1="480.00" x2="382.00" y2="482.50" stroke="#151515" stroke-width="0.9"/>
<text x="382.00" y="492.00" font-size="6.6" text-anchor="middle">3</text>
<line x1="405.10" y1="480.00" x2="405.10" y2="482.50" stroke="#151515" stroke-width="0.9"/>
<text x="405.10" y="492.00" font-size="6.6" text-anchor="middle">4</text>
<line x1="428.20" y1="480.00" x2="428.20" y2="482.50" stroke="#151515" stroke-width="0.9"/>
<text x="428.20" y="492.00" font-size="6.6" text-anchor="middle">6</text>
<line x1="451.20" y1="480.00" x2="451.20" y2="482.50" stroke="#151515" stroke-width="0.9"/>
<text x="451.20" y="492.00" font-size="6.6" text-anchor="middle">8</text>
<line x1="474.30" y1="480.00" x2="474.30" y2="482.50" stroke="#151515" stroke-width="0.9"/>
<text x="474.30" y="492.00" font-size="6.6" text-anchor="middle">24</text>
<line x1="497.40" y1="480.00" x2="497.40" y2="482.50" stroke="#151515" stroke-width="0.9"/>
<text x="497.40" y="492.00" font-size="6.6" text-anchor="middle">96</text>
<text x="416.50" y="504.20" font-size="8.8" text-anchor="middle" textLength="61.60" lengthAdjust="spacingAndGlyphs">Hours from baseline</text>
<text x="300.20" y="387.40" font-size="7.9" text-anchor="middle" textLength="103.40" lengthAdjust="spacingAndGlyphs" transform="rotate(-90 300.20 387.40)">% Change in sBCMA from baseline</text>
<polyline fill="none" stroke="#3ea8d8" stroke-width="1.0" points="335.80,301.69 358.90,346.63 382.00,350.55 405.10,354.70 428.20,368.07 451.20,380.29 474.30,399.65 497.40,439.99"/>
<circle cx="335.80" cy="301.69" r="1.7" fill="#3ea8d8"/>
<circle cx="358.90" cy="346.63" r="1.7" fill="#3ea8d8"/>
<circle cx="382.00" cy="350.55" r="1.7" fill="#3ea8d8"/>
<circle cx="405.10" cy="354.70" r="1.7" fill="#3ea8d8"/>
<circle cx="428.20" cy="368.07" r="1.7" fill="#3ea8d8"/>
<circle cx="451.20" cy="380.29" r="1.7" fill="#3ea8d8"/>
<circle cx="474.30" cy="399.65" r="1.7" fill="#3ea8d8"/>
<circle cx="497.40" cy="439.99" r="1.7" fill="#3ea8d8"/>
<polyline fill="none" stroke="#3ea8d8" stroke-width="1.0" points="335.80,319.67 358.90,319.90 382.00,377.06 405.10,369.45 428.20,389.05 451.20,404.03 474.30,386.97 497.40,399.42"/>
<circle cx="335.80" cy="319.67" r="1.7" fill="#3ea8d8"/>
<circle cx="358.90" cy="319.90" r="1.7" fill="#3ea8d8"/>
<circle cx="382.00" cy="377.06" r="1.7" fill="#3ea8d8"/>
<circle cx="405.10" cy="369.45" r="1.7" fill="#3ea8d8"/>
<circle cx="428.20" cy="389.05" r="1.7" fill="#3ea8d8"/>
<circle cx="451.20" cy="404.03" r="1.7" fill="#3ea8d8"/>
<circle cx="474.30" cy="386.97" r="1.7" fill="#3ea8d8"/>
<circle cx="497.40" cy="399.42" r="1.7" fill="#3ea8d8"/>
<polyline fill="none" stroke="#3ea8d8" stroke-width="1.0" points="335.80,325.43 358.90,341.79 382.00,320.82 405.10,336.72 428.20,348.25 451.20,348.02 474.30,351.25 497.40,414.63"/>
<circle cx="335.80" cy="325.43" r="1.7" fill="#3ea8d8"/>
<circle cx="358.90" cy="341.79" r="1.7" fill="#3ea8d8"/>
<circle cx="382.00" cy="320.82" r="1.7" fill="#3ea8d8"/>
<circle cx="405.10" cy="336.72" r="1.7" fill="#3ea8d8"/>
<circle cx="428.20" cy="348.25" r="1.7" fill="#3ea8d8"/>
<circle cx="451.20" cy="348.02" r="1.7" fill="#3ea8d8"/>
<circle cx="474.30" cy="351.25" r="1.7" fill="#3ea8d8"/>
<circle cx="497.40" cy="414.63" r="1.7" fill="#3ea8d8"/>
<polyline fill="none" stroke="#3ea8d8" stroke-width="1.0" points="335.80,337.18 358.90,342.95 382.00,323.58 405.10,344.56 428.20,367.38 451.20,371.30 474.30,395.04 497.40,420.63"/>
<circle cx="335.80" cy="337.18" r="1.7" fill="#3ea8d8"/>
<circle cx="358.90" cy="342.95" r="1.7" fill="#3ea8d8"/>
<circle cx="382.00" cy="323.58" r="1.7" fill="#3ea8d8"/>
<circle cx="405.10" cy="344.56" r="1.7" fill="#3ea8d8"/>
<circle cx="428.20" cy="367.38" r="1.7" fill="#3ea8d8"/>
<circle cx="451.20" cy="371.30" r="1.7" fill="#3ea8d8"/>
<circle cx="474.30" cy="395.04" r="1.7" fill="#3ea8d8"/>
<circle cx="497.40" cy="420.63" r="1.7" fill="#3ea8d8"/>
<polyline fill="none" stroke="#3ea8d8" stroke-width="1.0" points="335.80,338.34 358.90,346.40 382.00,326.12 405.10,354.70 428.20,376.37 451.20,375.22 474.30,407.49 497.40,464.19"/>
<circle cx="335.80" cy="338.34" r="1.7" fill="#3ea8d8"/>
<circle cx="358.90" cy="346.40" r="1.7" fill="#3ea8d8"/>
<circle cx="382.00" cy="326.12" r="1.7" fill="#3ea8d8"/>
<circle cx="405.10" cy="354.70" r="1.7" fill="#3ea8d8"/>
<circle cx="428.20" cy="376.37" r="1.7" fill="#3ea8d8"/>
<circle cx="451.20" cy="375.22" r="1.7" fill="#3ea8d8"/>
<circle cx="474.30" cy="407.49" r="1.7" fill="#3ea8d8"/>
<circle cx="497.40" cy="464.19" r="1.7" fill="#3ea8d8"/>
<polyline fill="none" stroke="#3ea8d8" stroke-width="1.0" points="335.80,341.79 358.90,352.17 382.00,348.48 405.10,361.85 428.20,376.60 451.20,385.13 474.30,413.71 497.40,468.34"/>
<circle cx="335.80" cy="341.79" r="1.7" fill="#3ea8d8"/>
<circle cx="358.90" cy="352.17" r="1.7" fill="#3ea8d8"/>
<circle cx="382.00" cy="348.48" r="1.7" fill="#3ea8d8"/>
<circle cx="405.10" cy="361.85" r="1.7" fill="#3ea8d8"/>
<circle cx="428.20" cy="376.60" r="1.7" fill="#3ea8d8"/>
<circle cx="451.20" cy="385.13" r="1.7" fill="#3ea8d8"/>
<circle cx="474.30" cy="413.71" r="1.7" fill="#3ea8d8"/>
<circle cx="497.40" cy="468.34" r="1.7" fill="#3ea8d8"/>
<polyline fill="none" stroke="#3ea8d8" stroke-width="1.0" points="335.80,355.62 358.90,352.17 382.00,355.86 405.10,375.68 428.20,376.37 451.20,380.29 474.30,423.62 497.40,469.95"/>
<circle cx="335.80" cy="355.62" r="1.7" fill="#3ea8d8"/>
<circle cx="358.90" cy="352.17" r="1.7" fill="#3ea8d8"/>
<circle cx="382.00" cy="355.86" r="1.7" fill="#3ea8d8"/>
<circle cx="405.10" cy="375.68" r="1.7" fill="#3ea8d8"/>
<circle cx="428.20" cy="376.37" r="1.7" fill="#3ea8d8"/>
<circle cx="451.20" cy="380.29" r="1.7" fill="#3ea8d8"/>
<circle cx="474.30" cy="423.62" r="1.7" fill="#3ea8d8"/>
<circle cx="497.40" cy="469.95" r="1.7" fill="#3ea8d8"/>
<polyline fill="none" stroke="#3ea8d8" stroke-width="1.0" points="335.80,343.64 358.90,360.93 382.00,357.70 405.10,370.84 428.20,368.07 451.20,375.22 474.30,390.43 497.40,438.14"/>
<circle cx="335.80" cy="343.64" r="1.7" fill="#3ea8d8"/>
<circle cx="358.90" cy="360.93" r="1.7" fill="#3ea8d8"/>
<circle cx="382.00" cy="357.70" r="1.7" fill="#3ea8d8"/>
<circle cx="405.10" cy="370.84" r="1.7" fill="#3ea8d8"/>
<circle cx="428.20" cy="368.07" r="1.7" fill="#3ea8d8"/>
<circle cx="451.20" cy="375.22" r="1.7" fill="#3ea8d8"/>
<circle cx="474.30" cy="390.43" r="1.7" fill="#3ea8d8"/>
<circle cx="497.40" cy="438.14" r="1.7" fill="#3ea8d8"/>
<polyline fill="none" stroke="#3ea8d8" stroke-width="1.0" points="335.80,354.70 358.90,342.95 382.00,350.55 405.10,359.31 428.20,371.99 451.20,385.13 474.30,406.56 497.40,452.67"/>
<circle cx="335.80" cy="354.70" r="1.7" fill="#3ea8d8"/>
<circle cx="358.90" cy="342.95" r="1.7" fill="#3ea8d8"/>
<circle cx="382.00" cy="350.55" r="1.7" fill="#3ea8d8"/>
<circle cx="405.10" cy="359.31" r="1.7" fill="#3ea8d8"/>
<circle cx="428.20" cy="371.99" r="1.7" fill="#3ea8d8"/>
<circle cx="451.20" cy="385.13" r="1.7" fill="#3ea8d8"/>
<circle cx="474.30" cy="406.56" r="1.7" fill="#3ea8d8"/>
<circle cx="497.40" cy="452.67" r="1.7" fill="#3ea8d8"/>
<polyline fill="none" stroke="#3ea8d8" stroke-width="1.0" points="335.80,337.42 358.90,346.63 382.00,348.48 405.10,358.16 428.20,368.53 451.20,377.75 474.30,399.65 497.40,418.09"/>
<circle cx="335.80" cy="337.42" r="1.7" fill="#3ea8d8"/>
<circle cx="358.90" cy="346.63" r="1.7" fill="#3ea8d8"/>
<circle cx="382.00" cy="348.48" r="1.7" fill="#3ea8d8"/>
<circle cx="405.10" cy="358.16" r="1.7" fill="#3ea8d8"/>
<circle cx="428.20" cy="368.53" r="1.7" fill="#3ea8d8"/>
<circle cx="451.20" cy="377.75" r="1.7" fill="#3ea8d8"/>
<circle cx="474.30" cy="399.65" r="1.7" fill="#3ea8d8"/>
<circle cx="497.40" cy="418.09" r="1.7" fill="#3ea8d8"/>
<polyline fill="none" stroke="#3ea8d8" stroke-width="1.0" points="335.80,340.87 358.90,357.70 382.00,355.86 405.10,363.92 428.20,381.21 451.20,386.05 474.30,401.95 497.40,438.84"/>
<circle cx="335.80" cy="340.87" r="1.7" fill="#3ea8d8"/>
<circle cx="358.90" cy="357.70" r="1.7" fill="#3ea8d8"/>
<circle cx="382.00" cy="355.86" r="1.7" fill="#3ea8d8"/>
<circle cx="405.10" cy="363.92" r="1.7" fill="#3ea8d8"/>
<circle cx="428.20" cy="381.21" r="1.7" fill="#3ea8d8"/>
<circle cx="451.20" cy="386.05" r="1.7" fill="#3ea8d8"/>
<circle cx="474.30" cy="401.95" r="1.7" fill="#3ea8d8"/>
<circle cx="497.40" cy="438.84" r="1.7" fill="#3ea8d8"/>
<polyline fill="none" stroke="#bf123c" stroke-width="1.0" points="335.80,323.12 358.90,355.86 382.00,364.38 405.10,358.62 428.20,371.76 451.20,363.00 474.30,392.50 497.40,430.08"/>
<circle cx="335.80" cy="323.12" r="1.7" fill="#bf123c"/>
<circle cx="358.90" cy="355.86" r="1.7" fill="#bf123c"/>
<circle cx="382.00" cy="364.38" r="1.7" fill="#bf123c"/>
<circle cx="405.10" cy="358.62" r="1.7" fill="#bf123c"/>
<circle cx="428.20" cy="371.76" r="1.7" fill="#bf123c"/>
<circle cx="451.20" cy="363.00" r="1.7" fill="#bf123c"/>
<circle cx="474.30" cy="392.50" r="1.7" fill="#bf123c"/>
<circle cx="497.40" cy="430.08" r="1.7" fill="#bf123c"/>
<polyline fill="none" stroke="#bf123c" stroke-width="1.0" points="335.80,328.89 358.90,332.57 382.00,334.19 405.10,367.15 428.20,380.52 451.20,363.00 474.30,382.13 497.40,354.93"/>
<circle cx="335.80" cy="328.89" r="1.7" fill="#bf123c"/>
<circle cx="358.90" cy="332.57" r="1.7" fill="#bf123c"/>
<circle cx="382.00" cy="334.19" r="1.7" fill="#bf123c"/>
<circle cx="405.10" cy="367.15" r="1.7" fill="#bf123c"/>
<circle cx="428.20" cy="380.52" r="1.7" fill="#bf123c"/>
<circle cx="451.20" cy="363.00" r="1.7" fill="#bf123c"/>
<circle cx="474.30" cy="382.13" r="1.7" fill="#bf123c"/>
<circle cx="497.40" cy="354.93" r="1.7" fill="#bf123c"/>
<polyline fill="none" stroke="#bf123c" stroke-width="1.0" points="335.80,346.40 358.90,338.34 382.00,354.24 405.10,342.49 428.20,360.00 451.20,363.00 474.30,419.70 497.40,472.49"/>
<circle cx="335.80" cy="346.40" r="1.7" fill="#bf123c"/>
<circle cx="358.90" cy="338.34" r="1.7" fill="#bf123c"/>
<circle cx="382.00" cy="354.24" r="1.7" fill="#bf123c"/>
<circle cx="405.10" cy="342.49" r="1.7" fill="#bf123c"/>
<circle cx="428.20" cy="360.00" r="1.7" fill="#bf123c"/>
<circle cx="451.20" cy="363.00" r="1.7" fill="#bf123c"/>
<circle cx="474.30" cy="419.70" r="1.7" fill="#bf123c"/>
<circle cx="497.40" cy="472.49" r="1.7" fill="#bf123c"/>
<polyline fill="none" stroke="#bf123c" stroke-width="1.0" points="335.80,349.63 358.90,353.09 382.00,364.38 405.10,357.70 428.20,364.84 451.20,390.89 474.30,419.70 497.40,445.06"/>
<circle cx="335.80" cy="349.63" r="1.7" fill="#bf123c"/>
<circle cx="358.90" cy="353.09" r="1.7" fill="#bf123c"/>
<circle cx="382.00" cy="364.38" r="1.7" fill="#bf123c"/>
<circle cx="405.10" cy="357.70" r="1.7" fill="#bf123c"/>
<circle cx="428.20" cy="364.84" r="1.7" fill="#bf123c"/>
<circle cx="451.20" cy="390.89" r="1.7" fill="#bf123c"/>
<circle cx="474.30" cy="419.70" r="1.7" fill="#bf123c"/>
<circle cx="497.40" cy="445.06" r="1.7" fill="#bf123c"/>
<polyline fill="none" stroke="#bf123c" stroke-width="1.0" points="335.80,324.05 358.90,357.01 382.00,354.24 405.10,367.15 428.20,394.81 451.20,404.03 474.30,413.48 497.40,454.74"/>
<circle cx="335.80" cy="324.05" r="1.7" fill="#bf123c"/>
<circle cx="358.90" cy="357.01" r="1.7" fill="#bf123c"/>
<circle cx="382.00" cy="354.24" r="1.7" fill="#bf123c"/>
<circle cx="405.10" cy="367.15" r="1.7" fill="#bf123c"/>
<circle cx="428.20" cy="394.81" r="1.7" fill="#bf123c"/>
<circle cx="451.20" cy="404.03" r="1.7" fill="#bf123c"/>
<circle cx="474.30" cy="413.48" r="1.7" fill="#bf123c"/>
<circle cx="497.40" cy="454.74" r="1.7" fill="#bf123c"/>
<polyline fill="none" stroke="#bf123c" stroke-width="1.0" points="335.80,348.02 358.90,353.55 382.00,354.24 405.10,357.70 428.20,372.22 451.20,389.51 474.30,392.74 497.40,431.92"/>
<circle cx="335.80" cy="348.02" r="1.7" fill="#bf123c"/>
<circle cx="358.90" cy="353.55" r="1.7" fill="#bf123c"/>
<circle cx="382.00" cy="354.24" r="1.7" fill="#bf123c"/>
<circle cx="405.10" cy="357.70" r="1.7" fill="#bf123c"/>
<circle cx="428.20" cy="372.22" r="1.7" fill="#bf123c"/>
<circle cx="451.20" cy="389.51" r="1.7" fill="#bf123c"/>
<circle cx="474.30" cy="392.74" r="1.7" fill="#bf123c"/>
<circle cx="497.40" cy="431.92" r="1.7" fill="#bf123c"/>
</svg></body></html>
